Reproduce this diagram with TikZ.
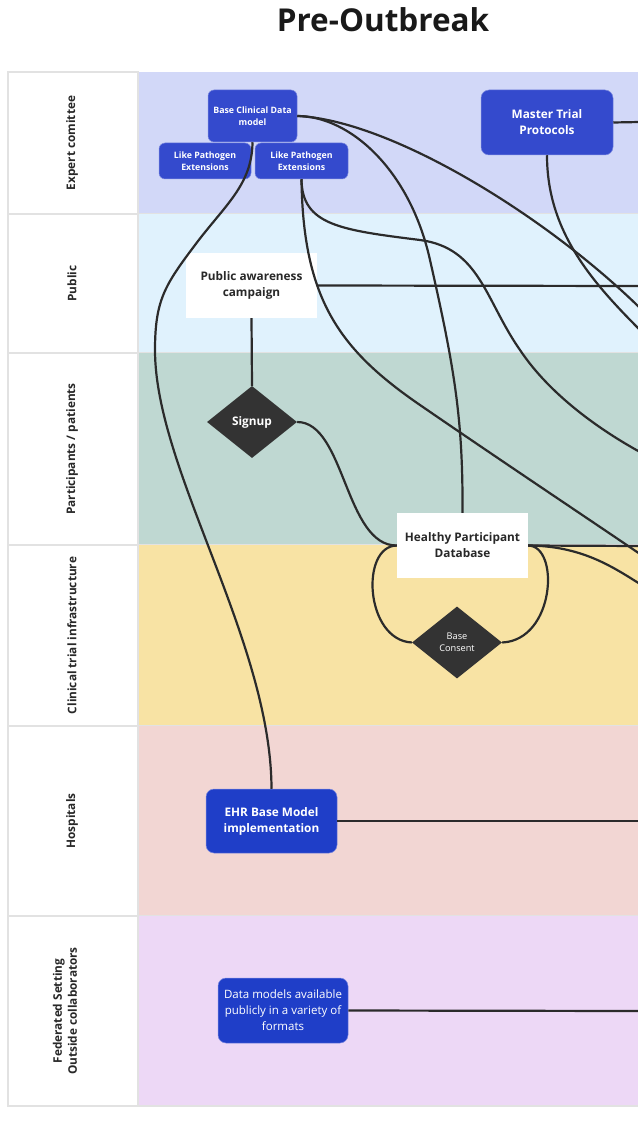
\documentclass[tikz,border=0pt]{standalone}
\usepackage{fontspec}
\setmainfont{Open Sans}
\usetikzlibrary{shapes.geometric}
\definecolor{expertlane}{RGB}{210,216,248}
\definecolor{publiclane}{RGB}{224,242,253}
\definecolor{participantlane}{RGB}{191,216,210}
\definecolor{clinicallane}{RGB}{248,227,164}
\definecolor{hospitallane}{RGB}{242,214,211}
\definecolor{federatedlane}{RGB}{237,216,246}
\definecolor{lanegray}{RGB}{226,226,226}
\definecolor{boxblue}{RGB}{52,74,205}
\definecolor{boxdeep}{RGB}{31,62,200}
\definecolor{decisiongray}{RGB}{51,51,51}
\definecolor{linkgray}{RGB}{43,43,43}
\definecolor{nodeink}{RGB}{40,40,40}

\begin{document}
\begin{tikzpicture}[x=1pt,y=-1pt,
  lanegrid/.style={draw=lanegray, line width=1.5pt},
  lanelabel/.style={font=\bfseries\fontsize{11.8}{15}\selectfont, rotate=90, align=center, text=nodeink},
  bluebox/.style={rectangle, rounded corners=8pt, fill=boxblue, draw=boxblue!65!white, line width=0.5pt,
    text=white, align=center, inner sep=0pt, font=\bfseries\fontsize{11.8}{16}\selectfont},
  smallbox/.style={bluebox, rounded corners=6pt, font=\bfseries\fontsize{8.8}{12.5}\selectfont},
  whitebox/.style={rectangle, fill=white, text=nodeink, align=center, inner sep=0pt,
    font=\bfseries\fontsize{11.8}{16}\selectfont},
  decision/.style={diamond, fill=decisiongray, text=white, align=center, inner sep=0pt,
    minimum width=90pt, minimum height=72pt},
  link/.style={draw=linkgray, line width=2.2pt}]
  \useasboundingbox (0,0) rectangle (637,1139);

  % title
  \node[font=\bfseries\fontsize{31.5}{36}\selectfont, text=black!90] (title) at (383,20) {Pre-Outbreak};

  % swim lanes and their label cells
  \foreach \key/\ytop/\ybot/\lx/\lbl in {
    expert/72/214/72/Expert comittee,
    public/214/353/72/Public,
    participant/353/545/72/{Participants / patients},
    clinical/545/726/72/Clinical trial infrastructure,
    hospital/726/916/72/Hospitals,
    federated/916/1106/65/{Federated Setting\\Outside collaborators}} {
    \fill[\key lane] (138,\ytop) rectangle (640,\ybot);
    \draw[lanegrid, fill=white] (8,\ytop) rectangle (138,\ybot);
    \draw[lanegrid] (138,\ybot) -- (640,\ybot);
    \node[lanelabel] (lane-\key) at (\lx,{(\ytop+\ybot)/2}) {\lbl};
  }

  % expert committee
  \node[smallbox, minimum width=89pt, minimum height=52pt] (bcdm) at (252.5,116) {Base Clinical Data\\model};
  \node[smallbox, minimum width=92pt, minimum height=36pt] (lpeleft) at (205,161) {Like Pathogen\\Extensions};
  \node[smallbox, minimum width=93pt, minimum height=36pt] (lperight) at (301.5,161) {Like Pathogen\\Extensions};
  \node[bluebox, minimum width=132pt, minimum height=65pt] (mtp) at (547,122.5) {Master Trial\\Protocols};

  % public, participants, infrastructure
  \node[whitebox, minimum width=131pt, minimum height=65pt] (pac) at (251.5,285.5) {Public awareness\\campaign};
  \node[decision, font=\bfseries\fontsize{11.8}{14}\selectfont] (signup) at (252,422) {Signup};
  \node[whitebox, minimum width=131pt, minimum height=65pt] (hpd) at (462.5,545.5) {Healthy Participant\\Database};
  \node[decision, font=\fontsize{9.2}{12.5}\selectfont] (consent) at (457,642.5) {Base\\Consent};

  % hospitals and outside collaborators
  \node[bluebox, fill=boxdeep, minimum width=131pt, minimum height=64pt] (ehr) at (271.5,821) {EHR Base Model\\implementation};
  \node[bluebox, fill=boxdeep, minimum width=130pt, minimum height=65pt,
    font=\fontsize{11.5}{16}\selectfont] (dmodels) at (283,1010.5) {Data models available\\publicly in a variety of\\formats};

  % loose ends at the right border
  \coordinate (mtp-out) at (640,122);
  \coordinate (bcdm-out) at (640,308);
  \coordinate (mtp-low) at (640,330);
  \coordinate (pac-out) at (640,286);
  \coordinate (lpe-mid) at (640,452);
  \coordinate (lpe-low) at (640,554);
  \coordinate (hpd-out) at (640,546);
  \coordinate (hpd-low) at (640,584);
  \coordinate (ehr-out) at (640,821);
  \coordinate (dm-out) at (640,1011);

  % connectors
  \draw[link] (bcdm.south) .. controls (252,185) and (225,205) .. (195,245)
    .. controls (165,285) and (155,300) .. (155,350)
    .. controls (155,470) and (271,640) .. (ehr.north);
  \draw[link] (bcdm.east) .. controls (390,120) and (545,215) .. (bcdm-out);
  \draw[link] (bcdm.east) .. controls (350,116) and (410,170) .. (430,260)
    .. controls (455,370) and (463,420) .. (hpd.north);
  \draw[link] (lperight.south) .. controls (302,225) and (340,230) .. (420,240)
    .. controls (480,248) and (485,300) .. (520,350)
    .. controls (550,395) and (600,430) .. (lpe-mid);
  \draw[link] (lperight.south) .. controls (303,300) and (340,350) .. (420,405)
    .. controls (500,460) and (590,520) .. (lpe-low);
  \draw[link] (mtp.east) -- (mtp-out);
  \draw[link] (mtp.south) .. controls (547,230) and (590,280) .. (mtp-low);
  \draw[link] (pac.east) -- (pac-out);
  \draw[link] (pac.south) -- (signup.north);
  \draw[link] (signup.east) .. controls (345,422) and (345,546) .. (hpd.west);
  \draw[link] (hpd.west) .. controls (360,546) and (365,640) .. (consent.west);
  \draw[link] (hpd.east) .. controls (560,546) and (555,640) .. (consent.east);
  \draw[link] (hpd.east) -- (hpd-out);
  \draw[link] (hpd.east) .. controls (580,546) and (610,565) .. (hpd-low);
  \draw[link] (ehr.east) -- (ehr-out);
  \draw[link] (dmodels.east) -- (dm-out);
\end{tikzpicture}
\end{document}
